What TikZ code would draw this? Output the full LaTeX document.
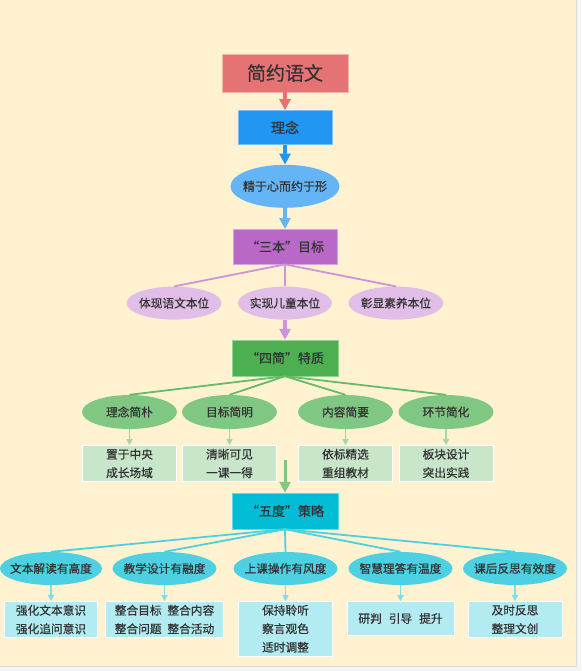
\documentclass[tikz,border=0pt]{standalone}
\usepackage{fontspec}
\setmainfont{Noto Sans CJK SC}[FakeBold=0.6]
\usetikzlibrary{shapes.geometric, arrows.meta, positioning}
\definecolor{bgcream}{HTML}{FFF2D0}
\definecolor{inkgray}{HTML}{333333}
\definecolor{titlered}{HTML}{E57373}
\definecolor{ideablue}{HTML}{2196F3}
\definecolor{coreblue}{HTML}{64B5F6}
\definecolor{benpurple}{HTML}{BA68C8}
\definecolor{benlight}{HTML}{E1BEE7}
\definecolor{benline}{HTML}{CE93D8}
\definecolor{jiangreen}{HTML}{4CAF50}
\definecolor{jianmid}{HTML}{81C784}
\definecolor{jianline}{HTML}{66BB6A}
\definecolor{jianlight}{HTML}{C8E6C9}
\definecolor{jiantick}{HTML}{A5D6A7}
\definecolor{ducyan}{HTML}{00BCD4}
\definecolor{dumid}{HTML}{4DD0E1}
\definecolor{dulight}{HTML}{B2EBF2}
\definecolor{dutick}{HTML}{80DEEA}
\tikzstyle{headbox} = [rectangle, minimum width=126pt, minimum height=38pt, text centered, draw=titlered!55!white, fill=titlered, font=\fontsize{19}{22}\selectfont]
\tikzstyle{stagebox} = [rectangle, minimum width=105pt, minimum height=35pt, text centered, font=\fontsize{13}{16}\selectfont]
\tikzstyle{bubble} = [ellipse, inner xsep=-8pt, inner ysep=0pt, minimum width=95pt, minimum height=33pt, text centered, font=\fontsize{11.7}{14}\selectfont]
\tikzstyle{leaf} = [rectangle, minimum width=94pt, minimum height=34pt, align=center, draw=white, line width=0.6pt, font=\fontsize{11.7}{18.5}\selectfont]
\tikzstyle{arrow} = [line width=3.5pt, -{Triangle[width=11pt,length=11pt]}]
\tikzstyle{branch} = [line width=1.8pt]
\tikzstyle{tick} = [line width=1.3pt, -{Triangle[width=6pt,length=6pt]}]

\begin{document}
\begin{tikzpicture}[x=1pt, y=-1pt, every node/.style={text=inkgray}]
\useasboundingbox (0,0) rectangle (581,671);
\fill[white!96!black] (0,0) rectangle (581,671);
\fill[bgcream] (0,0) rectangle (576,666);
\draw[black!15, line width=0.8pt] (576,0) -- (576,666) -- (0,666);

% Main column
\node (title) [headbox] at (285,73) {简约语文};
\node (idea) [stagebox, minimum width=94pt, minimum height=34pt, fill=ideablue, draw=ideablue!60!white, font=\fontsize{14}{16}\selectfont, below=18pt of title] {理念};
\node (core) [bubble, minimum width=109pt, minimum height=43pt, fill=coreblue, font=\fontsize{12}{14}\selectfont, below=20pt of idea] {精于心而约于形};
\node (sanben) [stagebox, minimum width=104pt, fill=benpurple, draw=benpurple!60!white, below=21pt of core] {“三本”目标};

% "Three ben" row
\node (ben2) [bubble, minimum width=94pt, fill=benlight, below=22pt of sanben] {实现儿童本位};
\node (ben1) [bubble, fill=benlight, left=16pt of ben2] {体现语文本位};
\node (ben3) [bubble, fill=benlight, right=16pt of ben2] {彰显素养本位};

\node (sijian) [stagebox, minimum width=106pt, minimum height=36pt, fill=jiangreen, draw=jiangreen!60!white, below=20pt of ben2] {“四简”特质};

% "Four jian" row
\node (jian1) [bubble, minimum height=34pt, fill=jianmid] at (129.5,412) {理念简朴};
\node (jian2) [bubble, minimum height=34pt, fill=jianmid] at (229.5,412) {目标简明};
\node (jian3) [bubble, minimum height=34pt, fill=jianmid] at (345.5,412) {内容简要};
\node (jian4) [bubble, minimum height=34pt, fill=jianmid] at (446,412) {环节简化};
\node (jianbox1) [leaf, fill=jianlight, below=16pt of jian1] {置于中央\\成长场域};
\node (jianbox2) [leaf, fill=jianlight, below=16pt of jian2] {清晰可见\\一课一得};
\node (jianbox3) [leaf, fill=jianlight, below=16pt of jian3] {依标精选\\重组教材};
\node (jianbox4) [leaf, fill=jianlight, below=16pt of jian4] {板块设计\\突出实践};

\coordinate (gap) at (285,460);
\node (wudu) [stagebox, minimum width=106pt, minimum height=36pt, fill=ducyan, draw=ducyan!60!white] at (285,511) {“五度”策略};

% "Five du" row
\node (du1) [bubble, minimum width=102pt, fill=dumid] at (51,568.5) {文本解读有高度};
\node (du2) [bubble, minimum width=104pt, fill=dumid] at (164.5,568.5) {教学设计有融度};
\node (du3) [bubble, minimum width=104pt, fill=dumid] at (285.5,568.5) {上课操作有风度};
\node (du4) [bubble, minimum width=104pt, fill=dumid] at (400.5,568.5) {智慧理答有温度};
\node (du5) [bubble, minimum width=104pt, fill=dumid] at (515,568.5) {课后反思有效度};
\node (dubox1) [leaf, minimum width=93pt, minimum height=35pt, fill=dulight, below=16pt of du1] {强化文本意识\\强化追问意识};
\node (dubox2) [leaf, minimum width=118pt, minimum height=35pt, fill=dulight, below=16pt of du2] {整合目标\hspace{0.5em}整合内容\\整合问题\hspace{0.5em}整合活动};
\node (dubox3) [leaf, minimum height=54pt, fill=dulight, below=16pt of du3] {保持聆听\\察言观色\\适时调整};
\node (dubox4) [leaf, minimum width=107pt, fill=dulight, below=16pt of du4] {研判\hspace{0.6em}引导\hspace{0.6em}提升};
\node (dubox5) [leaf, minimum height=35pt, fill=dulight, below=16pt of du5] {及时反思\\整理文创};

% Arrows
\draw [arrow, titlered] (title) -- (idea);
\draw [arrow, ideablue] (idea) -- (core);
\draw [arrow, coreblue] (core) -- (sanben);
\draw [branch, benline] (sanben.south) -- (ben1.north);
\draw [branch, benline] (sanben.south) -- (ben2.north);
\draw [branch, benline] (sanben.south) -- (ben3.north);
\draw [arrow, benline] (ben2) -- (sijian);

\draw [branch, jianline] (sijian.south) -- (jian1.north);
\draw [branch, jianline] (sijian.south) -- (jian2.north);
\draw [branch, jianline] (sijian.south) -- (jian3.north);
\draw [branch, jianline] (sijian.south) -- (jian4.north);
\draw [tick, jiantick] (jian1) -- (jianbox1);
\draw [tick, jiantick] (jian2) -- (jianbox2);
\draw [tick, jiantick] (jian3) -- (jianbox3);
\draw [tick, jiantick] (jian4) -- (jianbox4);
\draw [arrow, line width=3pt, jianmid] (gap) -- (wudu);

\draw [branch, dumid] (wudu.south) -- (du1.north);
\draw [branch, dumid] (wudu.south) -- (du2.north);
\draw [branch, dumid] (wudu.south) -- (du3.north);
\draw [branch, dumid] (wudu.south) -- (du4.north);
\draw [branch, dumid] (wudu.south) -- (du5.north);
\draw [tick, dutick] (du1) -- (dubox1);
\draw [tick, dutick] (du2) -- (dubox2);
\draw [tick, dutick] (du3) -- (dubox3);
\draw [tick, dutick] (du4) -- (dubox4);
\draw [tick, dutick] (du5) -- (dubox5);

\end{tikzpicture}
\end{document}
